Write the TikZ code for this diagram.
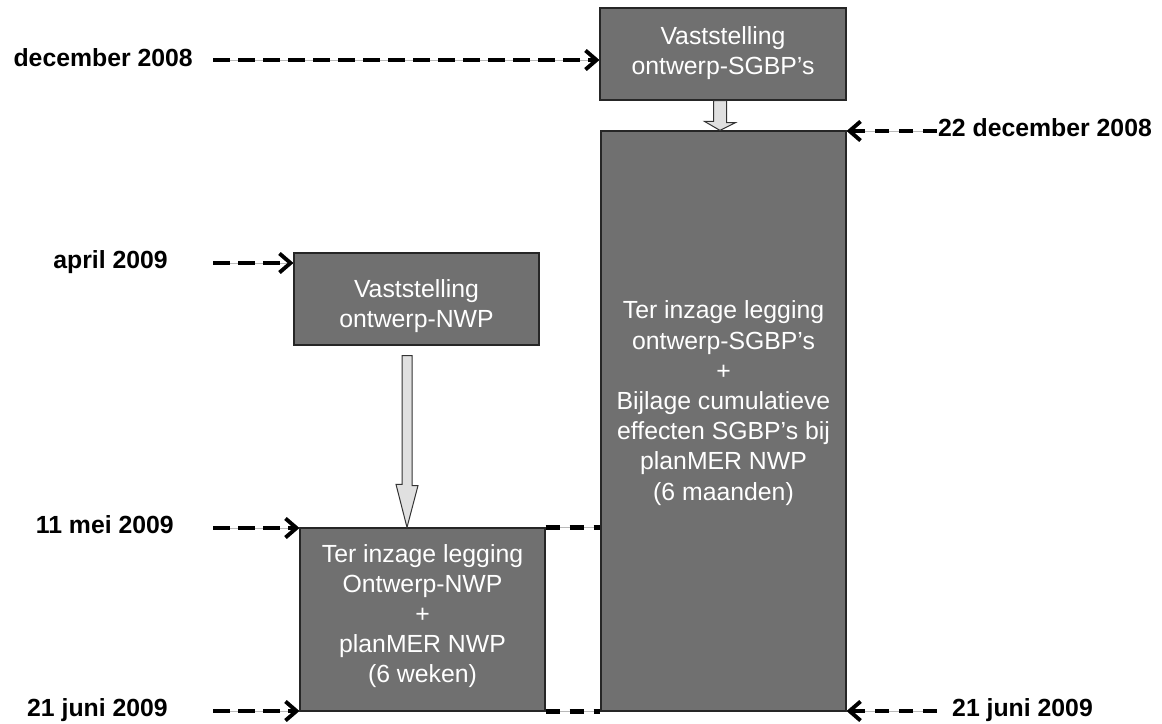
\documentclass[tikz,border=0pt]{standalone}
\usepackage{fontspec}
\setmainfont{Liberation Sans}
\usetikzlibrary{arrows.meta,calc}
\definecolor{boxfill}{RGB}{112,112,112}
\definecolor{arrfill}{RGB}{224,224,224}
\tikzset{
  stagebox/.style={draw=black!85, line width=1.2pt, fill=boxfill, rectangle, inner sep=0pt},
  boxtext/.style={text=white, align=center, inner sep=0pt, font=\fontsize{24.8}{30.2}\selectfont},
  datelab/.style={inner sep=0pt, font=\fontsize{24.8}{30}\selectfont\bfseries},
  tline/.style={line width=4.8pt, black, preaction={draw=gray!55, line width=1pt, solid}},
  ldash/.style={tline, dash pattern=on 17pt off 8pt},
  rdash/.style={tline, dash pattern=on 14pt off 10pt},
  chev/.style={-{Straight Barb[length=11pt,width=19pt,line width=3.8pt]}},
  blockarrow/.style={fill=arrfill, draw=black!80, line width=1pt, line join=miter}
}
\begin{document}
\begin{tikzpicture}[x=1pt,y=-1pt]
\useasboundingbox (0,0) rectangle (1162,723);
% boxes
\node[stagebox, minimum width=246pt, minimum height=92pt] (b1) at (723,54) {};
\node[stagebox, minimum width=245pt, minimum height=580pt] (big) at (723.5,421) {};
\node[stagebox, minimum width=245pt, minimum height=92pt] (b2) at (416.5,299) {};
\node[stagebox, minimum width=245pt, minimum height=183pt] (b3) at (422.5,619.5) {};
% box texts
\node[boxtext] (t1) at (723,53) {Vaststelling\\ontwerp-SGBP’s};
\node[boxtext] (t2) at (416.5,306) {Vaststelling\\ontwerp-NWP};
\node[boxtext] (t3) at (422.5,616) {Ter inzage legging\\Ontwerp-NWP\\+\\planMER NWP\\(6 weken)};
\node[boxtext] (tbig) at (723.5,403) {Ter inzage legging\\ontwerp-SGBP’s\\+\\Bijlage cumulatieve\\effecten SGBP’s bij\\planMER NWP\\(6 maanden)};
% block arrows
\draw[blockarrow] ($(b1.south)+(-9.5,0)$) -- ++(13,0) -- ++(0,22) -- ++(9,0)
  -- ($(big.north)+(-3.5,0)$) -- ++(-15.5,-9) -- ++(9,0) -- cycle;
\draw[blockarrow] ($(b2.south)+(-14.5,10)$) -- ++(10,0) -- ++(0,130) -- ++(6,0)
  -- ($(b3.north)+(-15.5,0)$) -- ++(-11,-43) -- ++(6,0) -- cycle;
% date labels
\node[datelab, anchor=base east] (l1) at (193,66) {december 2008};
\node[datelab, anchor=base east] (l2) at (168,268) {april 2009};
\node[datelab, anchor=base east] (l3) at (174,533) {11 mei 2009};
\node[datelab, anchor=base east] (l4) at (168,716) {21 juni 2009};
\node[datelab, anchor=base west] (r1) at (938,136) {22 december 2008};
\node[datelab, anchor=base west] (r2) at (952,716) {21 juni 2009};
% arrow start points
\coordinate (s1) at (213,60);
\coordinate (s2) at (213,263);
\coordinate (s3) at (213,528);
\coordinate (s4) at (213,711);
\coordinate (s5) at (937,131);
\coordinate (s6) at (937,711);
% dashed arrows
\draw[ldash, chev] (s1) -- (s1 -| b1.west);
\draw[ldash, chev] (s2) -- (s2 -| b2.west);
\draw[ldash, chev] (s3) -- (s3 -| b3.west);
\draw[ldash, chev] (s4) -- (s4 -| b3.west);
\draw[rdash, chev] (s5) -- (s5 -| big.east);
\draw[rdash, chev] (s6) -- (s6 -| big.east);
% connectors between boxes
\draw[rdash] (b3.north east) -- (b3.north east -| big.west);
\draw[rdash] (b3.south east) -- (b3.south east -| big.west);
\end{tikzpicture}
\end{document}
